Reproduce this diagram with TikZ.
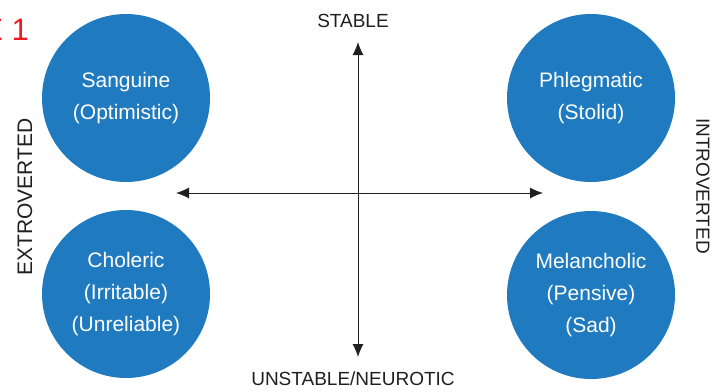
\documentclass[tikz,border=0pt]{standalone}
\usepackage{fontspec}
\setmainfont{Liberation Sans}
\usetikzlibrary{arrows.meta}
\definecolor{circblue}{RGB}{31,122,191}
\definecolor{inkdark}{RGB}{35,31,32}
\definecolor{figred}{RGB}{237,28,36}
\tikzset{
  temper/.style={circle,fill=circblue,draw=none,minimum size=168pt,inner sep=0pt,
    text=white,align=center,font=\fontsize{21}{32}\selectfont},
  axislabel/.style={text=inkdark,inner sep=0pt,font=\fontsize{19}{19}\selectfont},
  axis/.style={draw=inkdark,line width=1pt,{Latex[length=13pt,width=11pt]}-{Latex[length=13pt,width=11pt]}}
}
\begin{document}
\begin{tikzpicture}[x=1pt,y=-1pt]
\useasboundingbox (0,0) rectangle (712,391);
\clip (0,0) rectangle (712,391);
\fill[white] (0,0) rectangle (712,391);
\node[text=figred,inner sep=0pt,anchor=base east,font=\fontsize{31}{31}\selectfont] (fig) at (29,40) {E 1};
\node[temper] (sanguine) at (126,98) {Sanguine\\(Optimistic)};
\node[temper] (phlegmatic) at (591,98) {Phlegmatic\\(Stolid)};
\node[temper] (choleric) at (126,294) {Choleric\\(Irritable)\\(Unreliable)};
\node[temper] (melancholic) at (591,295) {Melancholic\\(Pensive)\\(Sad)};
\coordinate (vtop) at (358,42);
\coordinate (vbot) at (358,357);
\coordinate (hleft) at (176,193);
\coordinate (hright) at (543,193);
\draw[axis] (vtop) -- (vbot);
\draw[axis] (hleft) -- (hright);
\node[axislabel] (stable) at (353,21) {STABLE};
\node[axislabel] (unstable) at (353,379) {UNSTABLE/NEUROTIC};
\node[axislabel,rotate=90,font=\fontsize{21}{21}\selectfont] (extro) at (25,197) {EXTROVERTED};
\node[axislabel,rotate=-90] (intro) at (703,186) {INTROVERTED};
\end{tikzpicture}
\end{document}
